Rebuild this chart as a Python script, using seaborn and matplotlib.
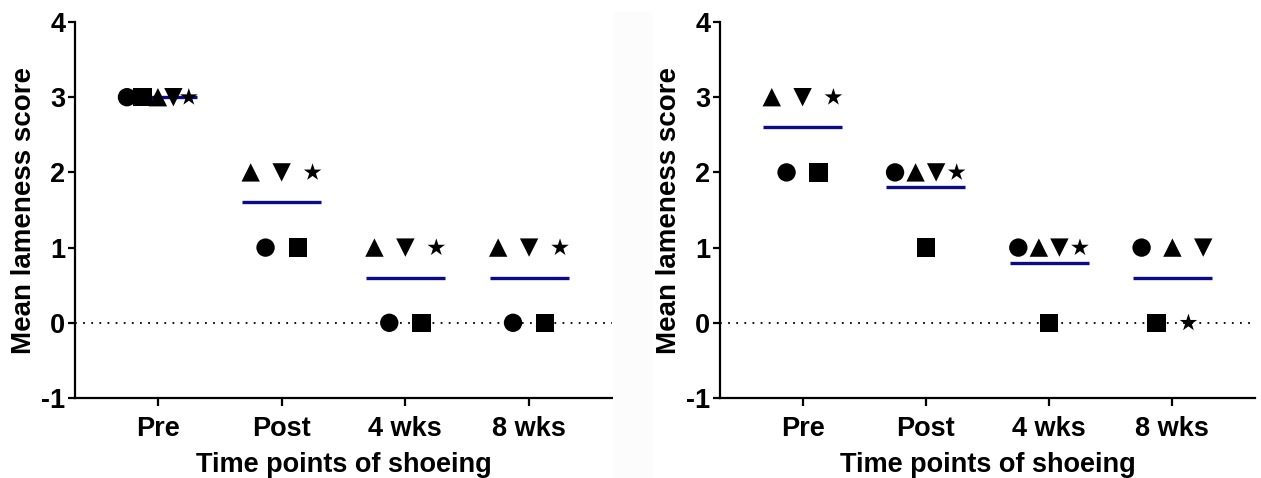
import numpy as np
import pandas as pd
import matplotlib
matplotlib.use("Agg")
import matplotlib.pyplot as plt
import seaborn as sns
from matplotlib.patches import Rectangle

# ---------------- data ----------------
timepoints = ["Pre", "Post", "4 wks", "8 wks"]
animals = ["A1", "A2", "A3", "A4", "A5"]
marker_shapes = ["o", "s", "^", "v", "*"]

# Left panel scores (per animal, per time point)
left_a1 = [3, 1, 0, 0]
left_a2 = [3, 1, 0, 0]
left_a3 = [3, 2, 1, 1]
left_a4 = [3, 2, 1, 1]
left_a5 = [3, 2, 1, 1]

# Right panel scores
right_a1 = [2, 2, 1, 1]
right_a2 = [2, 1, 0, 0]
right_a3 = [3, 2, 1, 1]
right_a4 = [3, 2, 1, 1]
right_a5 = [3, 2, 1, 0]

yticks = [-1, 0, 1, 2, 3, 4]
ylabel = "Mean lameness score"
xlabel = "Time points of shoeing"

# ---------------- style ----------------
sns.set_theme(style="ticks")
plt.rcParams["font.family"] = ["Liberation Sans", "DejaVu Sans"]
plt.rcParams["font.weight"] = "bold"
for k in ["text.color", "axes.labelcolor", "xtick.color", "ytick.color",
          "axes.edgecolor"]:
    plt.rcParams[k] = "black"

FS = 19.5
MEAN_COLOR = "#0b0b8a"


def build_frame(series):
    rows = []
    for a, vals in zip(animals, series):
        for t, v in enumerate(vals):
            rows.append({"animal": a, "tidx": t, "time": timepoints[t], "score": v})
    df = pd.DataFrame(rows)
    # spread points that share the same value at a time point (column scatter)
    df["xpos"] = df["tidx"].astype(float)
    for (t, v), grp in df.groupby(["tidx", "score"]):
        n = len(grp)
        if n > 1:
            step = min(0.26, 0.5 / (n - 1))
            offs = (np.arange(n) - (n - 1) / 2) * step
            df.loc[grp.index, "xpos"] = t + offs
    return df


def draw(ax, df):
    ax.axhline(0, color="black", lw=1.3, ls=(0, (1, 3.5)), zorder=1)
    means = df.groupby("tidx")["score"].mean()
    ax.hlines(means.values, means.index - 0.32, means.index + 0.32,
              color=MEAN_COLOR, lw=2.4, zorder=2)
    sns.scatterplot(data=df, x="xpos", y="score", style="animal",
                    markers=dict(zip(animals, marker_shapes)),
                    style_order=animals, color="black", s=175,
                    edgecolor="black", linewidth=0, legend=False,
                    ax=ax, zorder=3)
    ax.set_xlim(-0.67, 3.67)
    ax.set_ylim(-1, 4)
    ax.set_yticks(yticks)
    ax.set_yticklabels([str(t) for t in yticks], fontsize=FS, fontweight="bold")
    ax.set_xticks(range(len(timepoints)))
    ax.set_xticklabels(timepoints, fontsize=FS, fontweight="bold")
    ax.set_xlabel(xlabel, fontsize=FS, fontweight="bold", labelpad=7)
    ax.set_ylabel(ylabel, fontsize=20, fontweight="bold", labelpad=3)
    for sp in ["top", "right"]:
        ax.spines[sp].set_visible(False)
    for sp in ["left", "bottom"]:
        ax.spines[sp].set_linewidth(1.6)
        ax.spines[sp].set_color("black")
    ax.tick_params(axis="y", direction="out", length=5, width=1.6,
                   color="black", pad=2)
    ax.tick_params(axis="x", direction="out", length=6, width=1.6,
                   color="black", pad=7)
    ax.set_facecolor("none")


fig = plt.figure(figsize=(12.61, 4.78), dpi=100)
fig.patches.append(Rectangle((613 / 1261, 0), 40 / 1261, 1 - 12 / 478,
                             transform=fig.transFigure, facecolor="#fcfcfc",
                             edgecolor="none", zorder=0))

ax1 = fig.add_axes([75 / 1261, 1 - 398 / 478, 537 / 1261, 376 / 478])
ax2 = fig.add_axes([720 / 1261, 1 - 398 / 478, 535 / 1261, 376 / 478])

draw(ax1, build_frame([left_a1, left_a2, left_a3, left_a4, left_a5]))
draw(ax2, build_frame([right_a1, right_a2, right_a3, right_a4, right_a5]))

fig.savefig("out.png", dpi=100)
